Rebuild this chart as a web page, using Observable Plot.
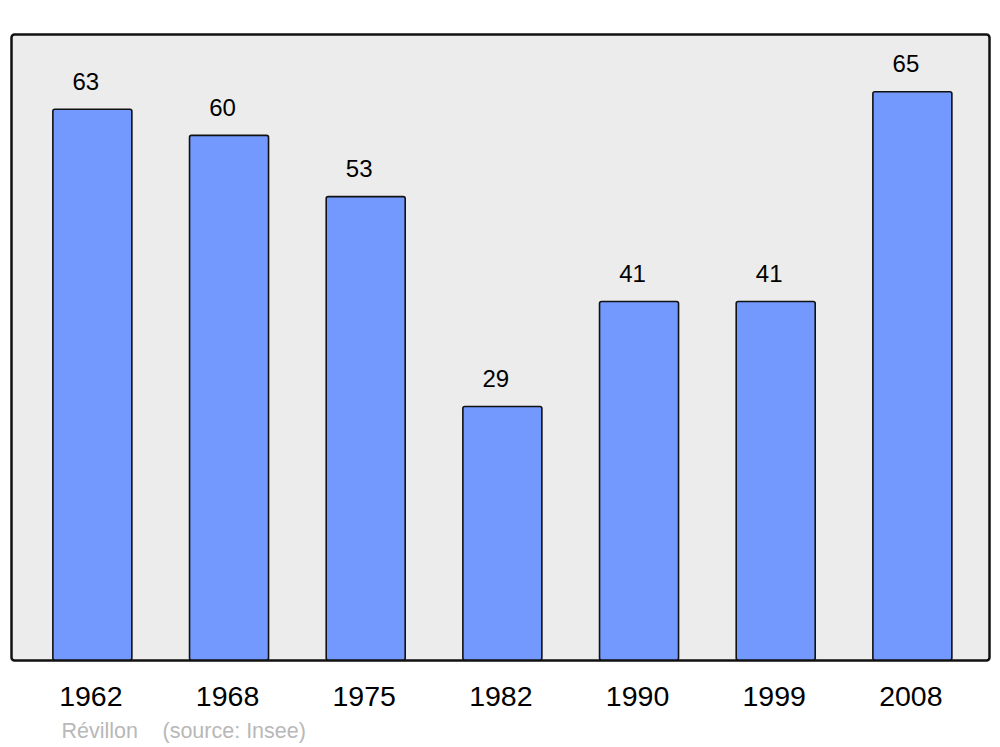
<!DOCTYPE html>
<html>
<head>
<meta charset="utf-8">
<script src="https://cdn.jsdelivr.net/npm/d3@7"></script>
<script src="https://cdn.jsdelivr.net/npm/@observablehq/plot@0.6"></script>
<style>
  html, body { margin: 0; padding: 0; background: #ffffff; }
  #chart svg { display: block; }
</style>
</head>
<body>
<div id="chart"></div>
<script>
const years = ["1962", "1968", "1975", "1982", "1990", "1999", "2008"];
const population = [63, 60, 53, 29, 41, 41, 65];
const commune = "Révillon";
const source = "(source: Insee)";

const data = years.map((y, i) => ({year: y, value: population[i]}));

const chart = Plot.plot({
  width: 1000,
  height: 747,
  marginTop: 34,
  marginBottom: 87,
  marginLeft: 11,
  marginRight: 11,
  style: {fontFamily: "'Liberation Sans', Arial, sans-serif", background: "#ffffff"},
  x: {domain: years, paddingInner: 0.422, paddingOuter: 0.289, align: 0.53, round: false, label: null},
  y: {domain: [0, 71.6], axis: null},
  marks: [
    Plot.frame({fill: "#ececec", stroke: "#111111", strokeWidth: 2.5, rx: 3}),
    Plot.barY(data, {x: "year", y: "value", fill: "#7399ff", stroke: "#111111", strokeWidth: 1.6, rx: 2}),
    Plot.text(data, {x: "year", y: "value", text: d => String(d.value), lineAnchor: "bottom", dy: -20, dx: -7, fontSize: 24, fill: "#000000"}),
    Plot.axisX({tickSize: 0, tickPadding: 25, fontSize: 28.5, dx: -2, color: "#000000", label: null}),
    Plot.text([commune], {frameAnchor: "bottom-left", textAnchor: "start", lineAnchor: "bottom", dx: 50, dy: 77, fontSize: 21.5, fill: "#b8b8b8"}),
    Plot.text([source], {frameAnchor: "bottom-left", textAnchor: "start", lineAnchor: "bottom", dx: 151, dy: 77, fontSize: 21.5, fill: "#b8b8b8"})
  ]
});
document.getElementById("chart").appendChild(chart);
</script>
</body>
</html>
